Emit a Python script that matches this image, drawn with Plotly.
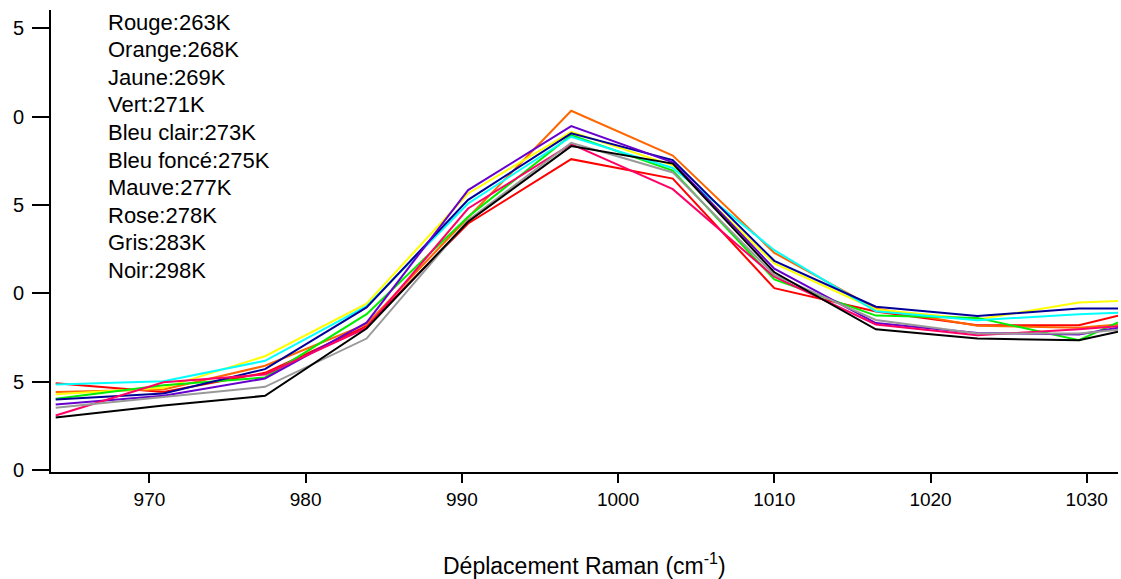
import plotly.graph_objects as go

# Raman shift (cm-1) sampled for every temperature
shift = [964.0, 970.9, 977.4, 983.9, 990.4, 997.0, 1003.5, 1010.0, 1016.5, 1023.0, 1029.5, 1032.0]

rouge = [4.92, 4.43, 5.51, 8.15, 13.96, 17.60, 16.50, 10.30, 8.98, 8.21, 8.21, 8.74]
orange = [4.43, 4.57, 5.91, 8.26, 14.30, 20.34, 17.80, 12.30, 9.15, 8.17, 8.06, 8.25]
jaune = [4.30, 4.66, 6.45, 9.43, 15.66, 19.15, 17.25, 11.70, 9.10, 8.53, 9.49, 9.58]
vert = [4.04, 4.81, 5.25, 8.83, 14.34, 18.96, 16.95, 10.80, 8.75, 8.62, 7.36, 8.36]
bleu_clair = [4.85, 5.04, 6.19, 9.28, 15.09, 18.87, 17.10, 12.45, 9.00, 8.49, 8.83, 8.91]
bleu_fonce = [4.00, 4.34, 5.72, 9.21, 15.30, 19.06, 17.55, 11.85, 9.25, 8.72, 9.15, 9.15]
mauve = [3.72, 4.21, 5.19, 8.35, 15.85, 19.47, 17.42, 11.40, 8.33, 7.77, 7.68, 8.06]
rose = [3.10, 4.98, 5.42, 8.05, 14.81, 18.45, 15.90, 10.95, 8.25, 7.64, 7.98, 8.15]
gris = [3.53, 4.15, 4.72, 7.45, 14.15, 18.53, 16.85, 11.05, 8.50, 7.74, 7.74, 7.95]
noir = [2.98, 3.66, 4.21, 8.02, 14.06, 18.34, 17.35, 11.20, 7.97, 7.45, 7.36, 7.83]

labels = ["Rouge:263K", "Orange:268K", "Jaune:269K", "Vert:271K", "Bleu clair:273K",
          "Bleu foncé:275K", "Mauve:277K", "Rose:278K", "Gris:283K", "Noir:298K"]
series = [rouge, orange, jaune, vert, bleu_clair, bleu_fonce, mauve, rose, gris, noir]
colors = ["#FF0000", "#FF6600", "#FFFF00", "#00EE00", "#00FFFF",
          "#000099", "#6600CC", "#FF0066", "#999999", "#000000"]

y_ticks = [0, 5, 10, 15, 20, 25]
y_ticktext = ["0", "5", "0", "5", "0", "5"]
x_ticks = [970, 980, 990, 1000, 1010, 1020, 1030]
x_title = "Déplacement Raman (cm<sup>-1</sup>)"

FONT = "Liberation Sans, Arial, sans-serif"

fig = go.Figure()
for name, vals, col in zip(labels, series, colors):
    fig.add_trace(go.Scatter(x=shift, y=vals, mode="lines", name=name,
                             line=dict(color=col, width=2), showlegend=False))

W, H = 1121, 579
ml, mr, mt, mb = 51, 3, 10, 107
plot_h = H - mt - mb


def paper_y(ypix):
    return 1 - (ypix - mt) / plot_h


# Temperature key written as plain text in the upper-left corner
for i, lab in enumerate(labels):
    fig.add_annotation(text=lab, xref="paper", yref="paper",
                       x=(106 - ml) / (W - ml - mr), y=paper_y(22 + 27.6 * i),
                       xanchor="left", yanchor="middle", showarrow=False,
                       font=dict(family=FONT, size=22, color="black"))

# X-axis title placed as a fixed annotation below the tick labels
fig.add_annotation(text=x_title, xref="paper", yref="paper", x=0.5, y=paper_y(564),
                   xanchor="center", yanchor="middle", showarrow=False,
                   font=dict(family=FONT, size=23, color="black"))

fig.update_layout(
    width=W, height=H,
    margin=dict(l=ml, r=mr, t=mt, b=mb, autoexpand=False),
    plot_bgcolor="white", paper_bgcolor="white",
    font=dict(family=FONT, size=19, color="black"),
    xaxis=dict(range=[963.7, 1032.0], tickvals=x_ticks, ticks="outside", ticklen=9,
               tickwidth=2, tickcolor="black", showline=True, linewidth=2,
               linecolor="black", showgrid=False, zeroline=False,
               tickfont=dict(family=FONT, size=19)),
    yaxis=dict(range=[-0.1, 26.04], tickvals=y_ticks, ticktext=y_ticktext,
               ticks="outside", ticklen=17, tickwidth=2, tickcolor="black",
               showline=True, linewidth=2, linecolor="black", showgrid=False,
               zeroline=False, ticklabelstandoff=4, tickfont=dict(family=FONT, size=20)),
)

fig.write_html("out.html")
